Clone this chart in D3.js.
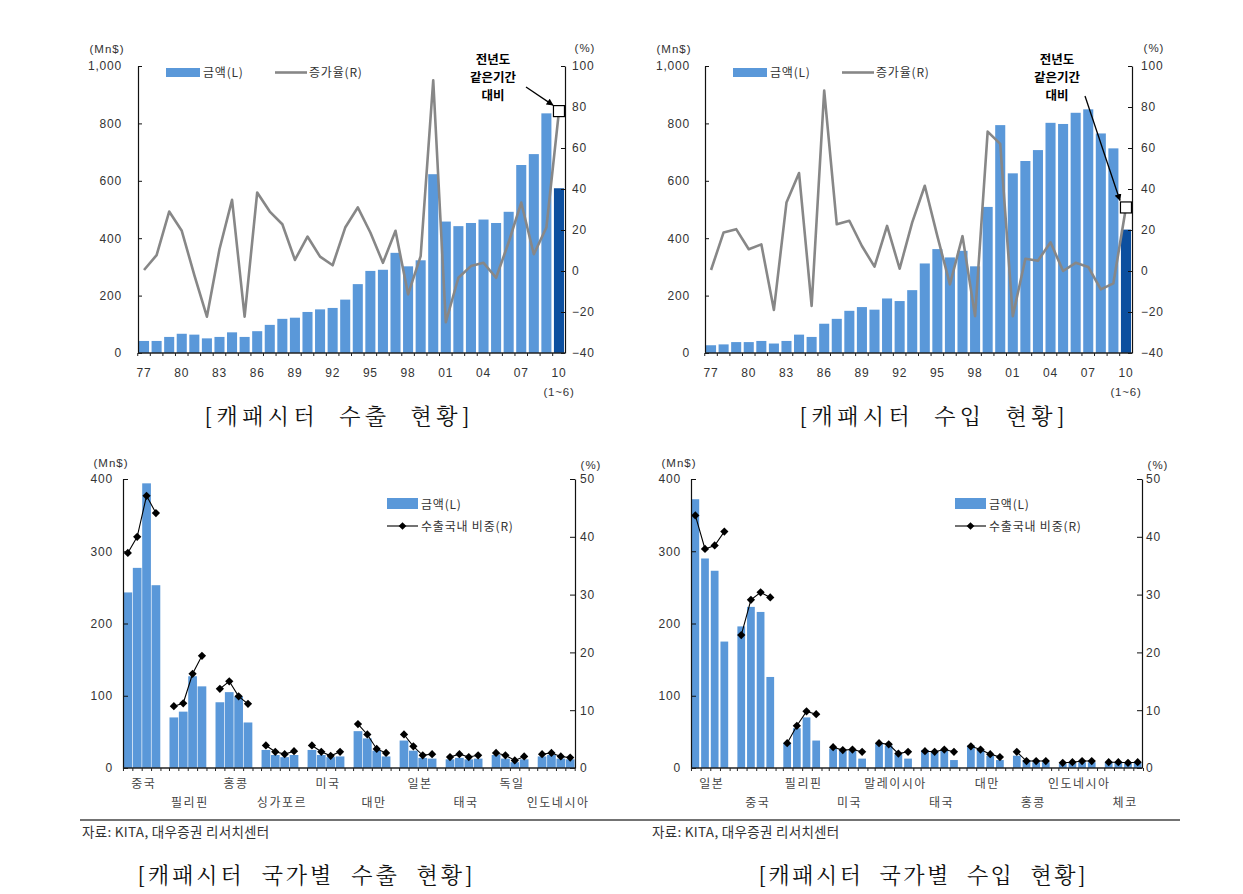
<!DOCTYPE html>
<html><head><meta charset="utf-8">
<script src="https://cdn.jsdelivr.net/npm/d3@7"></script>
<style>body{margin:0;background:#fff} svg{display:block}</style>
</head><body>
<svg id="c" width="1243" height="894"></svg>
<script>
// ---------- DATA ----------
const years = ["77","78","79","80","81","82","83","84","85","86","87","88","89","90","91","92","93","94","95","96","97","98","99","00","01","02","03","04","05","06","07","08","09","10"];
const yearTickLabels = ["77","80","83","86","89","92","95","98","01","04","07","10"];
const exportAmount = [42,42,56,67,64,51,56,72,56,76,98,119,123,143,152,157,186,240,286,290,349,302,323,623,458,442,453,465,453,492,655,693,835,574];
const exportGrowth = [0.5,7.7,29,19.6,-2,-22.3,10.6,34.7,-22.3,38.3,29,22.8,5.4,16.8,7,2.8,21.2,31,18.8,4,19.6,-11.4,7.3,93,-25,-3.3,2.4,4,-3.3,14,33.4,8.2,21.2,78];
const importAmount = [27,30,38,38,42,33,42,64,56,102,119,147,160,151,190,181,219,312,362,333,356,302,509,794,626,669,707,802,798,837,849,765,713,430];
const importGrowth = [0.5,18.8,20.4,10.6,13,-19,33.4,47.8,-17,88,22.8,24.5,12.2,2.1,22,1.1,23.7,41.6,17,-6.5,17,-22,68,62,-22,6,5,14,0,4,2,-9,-6,31];
const amountTicks = [0,200,400,600,800,1000];
const growthTicks = [-40,-20,0,20,40,60,80,100];

const exportCountries = ["중국","필리핀","홍콩","싱가포르","미국","대만","일본","태국","독일","인도네시아"];
const exportCountryAmount = [[243,277,394,253],[70,78,127,113],[91,105,99,63],[25,18,15,18],[25,18,15,16],[51,41,24,16],[38,24,14,13],[12,14,12,13],[18,13,8,12],[16,18,13,12]];
const exportCountryShare = [[37.2,40,47.1,44.1],[10.7,11.2,16.3,19.4],[13.7,15,12.4,11.1],[3.9,2.8,2.4,2.9],[3.9,2.8,2.1,2.8],[7.6,5.8,3.3,2.6],[5.8,3.75,2.2,2.4],[1.9,2.4,1.9,2.2],[2.6,2.2,1.3,2.0],[2.4,2.6,2.0,1.8]];
const importCountries = ["일본","중국","필리핀","미국","말레이시아","태국","대만","홍콩","인도네시아","체코"];
const importCountryAmount = [[372,290,273,175],[196,223,216,126],[35,55,70,38],[27,24,24,13],[34,31,19,13],[25,23,25,11],[31,25,17,11],[17,11,8,8],[6,7,8,8],[7,7,6,7]];
const importCountryShare = [[43.7,37.9,38.5,40.9],[23,29.1,30.4,29.5],[4.3,7.3,9.8,9.3],[3.6,3.1,3.2,2.8],[4.3,4.1,2.5,2.8],[2.9,2.8,3.2,2.8],[3.75,3.2,2.4,1.9],[2.8,1.2,1.2,1.2],[0.9,1.0,1.2,1.2],[1.0,1.0,0.9,1.0]];
const countryAmountTicks = [0,100,200,300,400];
const shareTicks = [0,10,20,30,40,50];

// ---------- STYLE ----------
const svg = d3.select("#c");
const KF = "'Noto Sans CJK KR','Noto Sans',sans-serif";
const NF = "'Liberation Sans',Arial,sans-serif";
const SERIF = "'Noto Serif CJK KR','Batang','Liberation Serif',serif";
const BAR = "#5a98d9", DARK = "#0c4f9f", GLINE = "#878787", TXT = "#333";

function styleAxis(g) {
  g.select(".domain").attr("stroke", "#111").attr("stroke-width", 1.2);
  g.selectAll(".tick line").attr("stroke", "#111");
  g.selectAll(".tick text").attr("font-family", NF).attr("font-size", 12)
    .attr("fill", TXT).attr("letter-spacing", 0.8);
}

function drawTop(cfg) {
  const g = svg.append("g");
  const x = d3.scaleBand().domain(years).range([cfg.x0, cfg.x1]).paddingInner(0.2).paddingOuter(0.08);
  const yL = d3.scaleLinear().domain([0, 1000]).range([cfg.yb, cfg.yt]);
  const yR = d3.scaleLinear().domain([-40, 100]).range([cfg.yb, cfg.yt]);
  const bw = x.bandwidth();

  g.selectAll("rect.bar").data(cfg.amount).join("rect")
    .attr("x", (d, i) => x(years[i])).attr("width", bw)
    .attr("y", d => yL(d)).attr("height", d => yL(0) - yL(d))
    .attr("fill", (d, i) => i === years.length - 1 ? DARK : BAR);

  const line = d3.line().x((d, i) => x(years[i]) + bw / 2).y(d => yR(d));
  g.append("path").datum(cfg.growth).attr("d", line)
    .attr("fill", "none").attr("stroke", GLINE).attr("stroke-width", 2.6).attr("stroke-linejoin", "round");

  const ax = g.append("g").attr("transform", `translate(${cfg.x0},0)`)
    .call(d3.axisLeft(yL).tickValues(amountTicks).tickSize(-4).tickSizeOuter(0).tickPadding(cfg.lpad).tickFormat(d3.format(",")));
  styleAxis(ax);
  const ar = g.append("g").attr("transform", `translate(${cfg.x1},0)`)
    .call(d3.axisRight(yR).tickValues(growthTicks).tickSize(-4).tickSizeOuter(0).tickPadding(cfg.rpad));
  styleAxis(ar);
  g.append("line").attr("x1", cfg.x0).attr("x2", cfg.x1).attr("y1", cfg.yb).attr("y2", cfg.yb)
    .attr("stroke", "#222").attr("stroke-width", 1.4);
  g.selectAll("line.bt").data(years).join("line")
    .attr("x1", d => x(d) - x.step() * 0.1).attr("x2", d => x(d) - x.step() * 0.1)
    .attr("y1", cfg.yb).attr("y2", cfg.yb + 3).attr("stroke", "#222");
  g.selectAll("text.xl").data(yearTickLabels).join("text")
    .attr("x", d => x(d) + bw / 2).attr("y", cfg.yb + 24)
    .attr("text-anchor", "middle").attr("font-family", NF).attr("font-size", 12)
    .attr("fill", TXT).attr("letter-spacing", 0.8).text(d => d);
  g.append("text").attr("x", x("10") + bw / 2).attr("y", cfg.yb + 43).attr("text-anchor", "middle")
    .attr("font-family", NF).attr("font-size", 11.5).attr("fill", TXT).attr("letter-spacing", 0.8).text("(1~6)");
  g.append("text").attr("x", cfg.x0 - 31).attr("y", cfg.yt - 13).attr("text-anchor", "middle")
    .attr("font-family", NF).attr("font-size", 11.5).attr("fill", TXT).attr("letter-spacing", 1).text("(Mn$)");
  g.append("text").attr("x", cfg.x1 + cfg.pctDx).attr("y", cfg.yt - 14).attr("text-anchor", "middle")
    .attr("font-family", NF).attr("font-size", 11.5).attr("fill", TXT).attr("letter-spacing", 1).text("(%)");

  const lx = cfg.x0 + 28;
  g.append("rect").attr("x", lx).attr("y", cfg.yt + 2).attr("width", 34).attr("height", 9).attr("fill", BAR);
  g.append("text").attr("x", lx + 37).attr("y", cfg.yt + 11).attr("font-family", KF).attr("font-size", 12)
    .attr("fill", TXT).attr("letter-spacing", 0.8).text("금액(L)");
  g.append("line").attr("x1", lx + 109).attr("x2", lx + 141).attr("y1", cfg.yt + 6.5).attr("y2", cfg.yt + 6.5)
    .attr("stroke", GLINE).attr("stroke-width", 2.6);
  g.append("text").attr("x", lx + 143).attr("y", cfg.yt + 11).attr("font-family", KF).attr("font-size", 12)
    .attr("fill", TXT).attr("letter-spacing", 0.8).text("증가율(R)");

  const last = years.length - 1;
  const px = x(years[last]) + bw / 2, py = yR(cfg.growth[last]);
  g.append("rect").attr("x", px - 5.5).attr("y", py - 5.5).attr("width", 11).attr("height", 11)
    .attr("fill", "#fff").attr("stroke", "#000").attr("stroke-width", 1.2);
  const t = g.append("text").attr("text-anchor", "middle").attr("font-family", KF).attr("font-weight", 700)
    .attr("font-size", 12.5).attr("fill", "#000");
  ["전년도", "같은기간", "대비"].forEach((s, i) =>
    t.append("tspan").attr("x", cfg.annX).attr("y", cfg.yt - 2 + i * 18).text(s));
  g.append("line").attr("x1", cfg.arrow[0]).attr("y1", cfg.arrow[1]).attr("x2", px + cfg.arrow[2]).attr("y2", py + cfg.arrow[3])
    .attr("stroke", "#000").attr("stroke-width", 1.3).attr("marker-end", "url(#ah)");
}

function drawBottom(cfg) {
  const g = svg.append("g");
  const gx = d3.scaleBand().domain(cfg.countries).range([cfg.x0, cfg.x1]).paddingInner(0.2).paddingOuter(0.01);
  const ix = d3.scaleBand().domain([0, 1, 2, 3]).range([0, gx.bandwidth()]).paddingInner(cfg.inner);
  const yL = d3.scaleLinear().domain([0, 400]).range([cfg.yb, cfg.yt]);
  const yR = d3.scaleLinear().domain([0, 50]).range([cfg.yb, cfg.yt]);

  cfg.countries.forEach((c, ci) => {
    const gg = g.append("g").attr("transform", `translate(${gx(c)},0)`);
    gg.selectAll("rect").data(cfg.amount[ci]).join("rect")
      .attr("x", (d, i) => ix(i)).attr("width", ix.bandwidth())
      .attr("y", d => yL(d)).attr("height", d => yL(0) - yL(d)).attr("fill", BAR);
    const ln = d3.line().x((d, i) => ix(i) + ix.bandwidth() / 2).y(d => yR(d));
    gg.append("path").datum(cfg.share[ci]).attr("d", ln).attr("fill", "none").attr("stroke", "#000").attr("stroke-width", 1.1);
    gg.selectAll("path.m").data(cfg.share[ci]).join("path")
      .attr("d", d3.symbol(d3.symbolSquare, 34))
      .attr("transform", (d, i) => `translate(${ix(i) + ix.bandwidth() / 2},${yR(d)}) rotate(45)`)
      .attr("fill", "#000");
    gg.selectAll("line.bt").data([0, 1, 2, 3, 4]).join("line")
      .attr("x1", i => i * ix.step()).attr("x2", i => i * ix.step())
      .attr("y1", cfg.yb).attr("y2", cfg.yb + 3).attr("stroke", "#222");
  });

  const ax = g.append("g").attr("transform", `translate(${cfg.x0},0)`)
    .call(d3.axisLeft(yL).tickValues(countryAmountTicks).tickSize(-5).tickSizeOuter(0).tickPadding(10));
  styleAxis(ax);
  const ar = g.append("g").attr("transform", `translate(${cfg.x1},0)`)
    .call(d3.axisRight(yR).tickValues(shareTicks).tickSize(-5).tickSizeOuter(0).tickPadding(cfg.rpad));
  styleAxis(ar);
  g.append("line").attr("x1", cfg.x0).attr("x2", cfg.x1).attr("y1", cfg.yb).attr("y2", cfg.yb)
    .attr("stroke", "#222").attr("stroke-width", 1.4);

  g.selectAll("text.cl").data(cfg.countries).join("text")
    .attr("x", d => gx(d) + gx.bandwidth() / 2 + 2)
    .attr("y", (d, i) => cfg.yb + (i % 2 === 0 ? 20 : 39))
    .attr("text-anchor", "middle").attr("font-family", KF).attr("font-size", 12)
    .attr("fill", "#444").attr("letter-spacing", 1.5).text(d => d);

  g.append("text").attr("x", cfg.x0 - 12).attr("y", cfg.yt - 12).attr("text-anchor", "middle")
    .attr("font-family", NF).attr("font-size", 11.5).attr("fill", TXT).attr("letter-spacing", 1).text("(Mn$)");
  g.append("text").attr("x", cfg.x1 + cfg.pctDx).attr("y", cfg.yt - 10).attr("text-anchor", "middle")
    .attr("font-family", NF).attr("font-size", 11.5).attr("fill", TXT).attr("letter-spacing", 1).text("(%)");

  const lx = cfg.legX;
  g.append("rect").attr("x", lx).attr("y", cfg.yt + 19).attr("width", 31).attr("height", 11).attr("fill", BAR);
  g.append("text").attr("x", lx + 34).attr("y", cfg.yt + 30).attr("font-family", KF).attr("font-size", 12)
    .attr("fill", TXT).attr("letter-spacing", 0.8).text("금액(L)");
  g.append("line").attr("x1", lx).attr("x2", lx + 31).attr("y1", cfg.yt + 47).attr("y2", cfg.yt + 47)
    .attr("stroke", "#000").attr("stroke-width", 1.1);
  g.append("path").attr("d", d3.symbol(d3.symbolSquare, 30))
    .attr("transform", `translate(${lx + 15.5},${cfg.yt + 47}) rotate(45)`).attr("fill", "#000");
  g.append("text").attr("x", lx + 34).attr("y", cfg.yt + 52).attr("font-family", KF).attr("font-size", 12)
    .attr("fill", TXT).attr("letter-spacing", 0.8).text("수출국내 비중(R)");
}

svg.append("defs").append("marker").attr("id", "ah").attr("viewBox", "0 0 10 10")
  .attr("refX", 9).attr("refY", 5).attr("markerWidth", 7).attr("markerHeight", 7)
  .attr("orient", "auto").attr("markerUnits", "userSpaceOnUse")
  .append("path").attr("d", "M0,0 L10,5 L0,10 z").attr("fill", "#000");

drawTop({x0: 138, x1: 565, yt: 66, yb: 353, amount: exportAmount, growth: exportGrowth,
  lpad: 16, rpad: 7, pctDx: 20, annX: 493, arrow: [526, 87, -6, -6]});
drawTop({x0: 705, x1: 1132, yt: 66, yb: 353, amount: importAmount, growth: importGrowth,
  lpad: 15, rpad: 9, pctDx: 22, annX: 1057, arrow: [1085, 96, -6, -7]});

drawBottom({x0: 123, x1: 575, yt: 479, yb: 768, countries: exportCountries,
  amount: exportCountryAmount, share: exportCountryShare, inner: 0.07, rpad: 5, pctDx: 16, legX: 387});
drawBottom({x0: 691, x1: 1142, yt: 479, yb: 768, countries: importCountries,
  amount: importCountryAmount, share: importCountryShare, inner: 0.2, rpad: 4, pctDx: 16, legX: 955});

const caps = [
  {t: "[캐패시터  수출  현황]", x: 337, y: 424, w: 265},
  {t: "[캐패시터  수입  현황]", x: 932, y: 424, w: 265},
  {t: "[캐패시터  국가별  수출  현황]", x: 305, y: 883, w: 335},
  {t: "[캐패시터  국가별  수입  현황]", x: 922, y: 883, w: 327}
];
caps.forEach(c => svg.append("text").attr("x", c.x - c.w / 2).attr("y", c.y)
  .attr("font-family", SERIF).attr("font-size", 22).attr("fill", "#111")
  .attr("textLength", c.w).attr("lengthAdjust", "spacing").style("white-space", "pre").text(c.t));

svg.append("line").attr("x1", 80).attr("x2", 1180).attr("y1", 820).attr("y2", 820)
  .attr("stroke", "#444").attr("stroke-width", 1.3);
[82, 652].forEach(x => svg.append("text").attr("x", x).attr("y", 837)
  .attr("font-family", KF).attr("font-size", 13.5).attr("fill", "#333").attr("letter-spacing", 0.3)
  .text("자료: KITA, 대우증권 리서치센터"));
</script>
</body></html>
